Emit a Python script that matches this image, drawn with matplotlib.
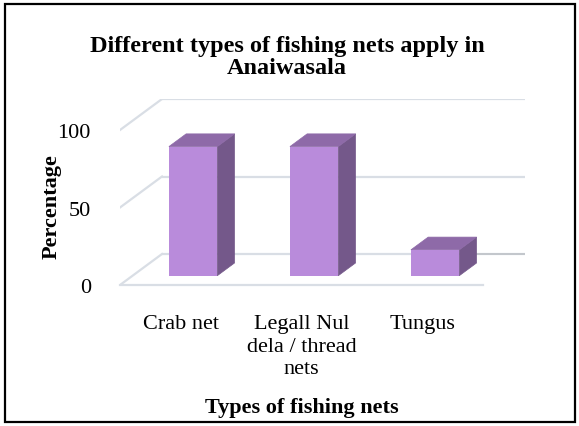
import matplotlib.pyplot as plt
from matplotlib.patches import Polygon, Rectangle

# data
categories = ['Crab net', 'Legall Nul\ndela / thread\nnets', 'Tungus']
percentages = [83.3, 83.3, 16.7]
yticks = [0, 50, 100]

# colours
front_col = '#B98BDB'
top_col = '#8E6AA8'
side_col = '#74588A'
grid_col = '#D9DEE5'

plt.rcParams['font.family'] = ['Liberation Serif', 'DejaVu Serif']

W, H = 579, 427
fig = plt.figure(figsize=(W / 100, H / 100), dpi=100)
fig.patches.append(Rectangle((4.5 / W, 4.5 / H), (574.5 - 4.5) / W, (422.5 - 4.5) / H,
                             transform=fig.transFigure, fill=False, lw=1.6, ec='black'))

# axes data coords = front edge plane of the 3D floor
ax = fig.add_axes([120 / W, (H - 286) / H, 405.4 / W, 186 / H])
ax.set_xlim(-0.5, 2.85)
ax.set_ylim(0, 120)
for s in ax.spines.values():
    s.set_visible(False)

# depth vector (front edge -> back wall) in data units
dx, dy = 0.347, 20
x0, x1 = -0.5, 2.5

# back wall gridlines + left wall diagonals
for g in yticks:
    ax.plot([x0 + dx, x1 + dx], [g + dy, g + dy], color=grid_col, lw=1.6,
            solid_capstyle='butt', zorder=1)
    ax.plot([x0, x0 + dx], [g, g + dy], color=grid_col, lw=1.6, zorder=1)
# floor front edge
ax.plot([x0, x1], [0, 0], color=grid_col, lw=1.6, zorder=1, clip_on=False)
ax.plot([2.3 + dx * 0.3, x1 + dx], [dy, dy], color='#C3C7CC', lw=1.4, zorder=1.5)

# bars
bw = 0.4
f0, f1 = 0.3, 0.71
bx = [i + f0 * dx for i in range(len(categories))]
base = f0 * dy
ddx, ddy = (f1 - f0) * dx, (f1 - f0) * dy
for xc, v in zip(bx, percentages):
    xl, xr = xc - bw / 2, xc + bw / 2
    side = Polygon([(xr, base), (xr + ddx, base + ddy), (xr + ddx, base + ddy + v), (xr, base + v)],
                   closed=True, fc=side_col, ec=side_col, lw=0.5, zorder=3)
    top = Polygon([(xl, base + v), (xr, base + v), (xr + ddx, base + v + ddy), (xl + ddx, base + v + ddy)],
                  closed=True, fc=top_col, ec=top_col, lw=0.5, zorder=3)
    ax.add_patch(side)
    ax.add_patch(top)
ax.bar(bx, percentages, width=bw, bottom=base, color=front_col, zorder=4)

ax.set_yticks(yticks)
ax.set_yticklabels([str(t) for t in yticks], fontsize=16)
ax.set_xticks(range(len(categories)))
ax.set_xticklabels(categories, fontsize=16, linespacing=1.24)
ax.tick_params(axis='y', length=0, pad=21)
ax.tick_params(axis='x', length=0, pad=21)

fig.text(287 / W, 1 - 57.5 / H, 'Different types of fishing nets apply in\nAnaiwasala',
         ha='center', va='center', fontsize=17.5, fontweight='bold', linespacing=1.1)
fig.text(52 / W, 1 - 207 / H, 'Percentage', rotation=90, ha='center', va='center',
         fontsize=16, fontweight='bold')
fig.text(302 / W, 1 - 408 / H, 'Types of fishing nets', ha='center', va='center',
         fontsize=16, fontweight='bold')

fig.savefig('out.png', dpi=100)
